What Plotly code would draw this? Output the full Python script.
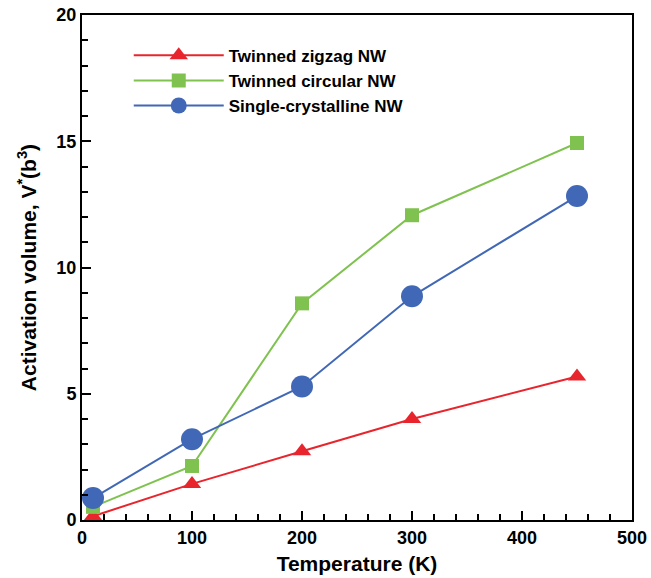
import plotly.graph_objects as go

temperature = [10, 100, 200, 300, 450]
zigzag = [0.15, 1.43, 2.72, 4.0, 5.68]
circular = [0.52, 2.14, 8.58, 12.07, 14.93]
single = [0.87, 3.2, 5.29, 8.86, 12.83]

names = ["Twinned zigzag NW", "Twinned circular NW", "Single-crystalline NW"]
colors = ["#e8242c", "#80c250", "#4168b6"]
symbols = ["triangle-up", "square", "circle"]
sizes = [16, 14, 22]

fig = go.Figure()
for name, ys, c, s, sz in zip(names, [zigzag, circular, single], colors, symbols, sizes):
    fig.add_trace(go.Scatter(
        x=temperature, y=ys, name=name, mode="lines+markers",
        line=dict(color=c, width=2),
        marker=dict(symbol=s, size=sz, color=c, line=dict(width=0)),
        cliponaxis=False,
    ))

font_family = "Liberation Sans, Arial, sans-serif"
fig.update_layout(
    width=651, height=578,
    margin=dict(l=82, r=19, t=15, b=58),
    plot_bgcolor="white", paper_bgcolor="white",
    font=dict(family=font_family, color="black"),
    showlegend=True,
    legend=dict(
        x=0.085, y=0.955, xanchor="left", yanchor="top",
        bgcolor="rgba(0,0,0,0)",
        font=dict(size=17, family=font_family, weight="bold"),
        tracegroupgap=0, itemwidth=90,
    ),
)
fig.update_xaxes(
    range=[0, 500], tickmode="linear", dtick=100, tick0=0,
    ticks="inside", ticklen=9, tickwidth=2, tickcolor="black",
    minor=dict(tickmode="linear", dtick=20, tick0=0, ticks="inside", ticklen=6, tickwidth=2, tickcolor="black"),
    showline=True, linewidth=2, linecolor="black", mirror=True,
    showgrid=False, zeroline=False, automargin=False,
    tickfont=dict(size=18, weight="bold"),
    title=dict(text="Temperature (K)", font=dict(size=21, weight="bold"), standoff=10),
)
fig.update_yaxes(
    range=[0, 20], tickmode="linear", dtick=5, tick0=0,
    ticks="inside", ticklen=9, tickwidth=2, tickcolor="black",
    minor=dict(tickmode="linear", dtick=1, tick0=0, ticks="inside", ticklen=6, tickwidth=2, tickcolor="black"),
    showline=True, linewidth=2, linecolor="black", mirror=True,
    showgrid=False, zeroline=False, automargin=False,
    tickfont=dict(size=18, weight="bold"),
    title=dict(text="Activation volume, V<sup>*</sup>(b<sup>3</sup>)", font=dict(size=21, weight="bold"), standoff=14),
)
fig.write_html("out.html", config={"displayModeBar": False},
               post_script="document.body.style.margin='0';")
